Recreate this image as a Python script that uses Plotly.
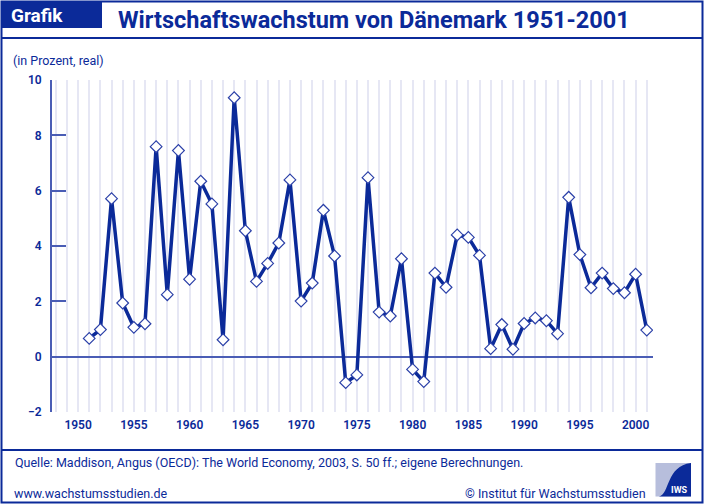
import plotly.graph_objects as go

years = list(range(1951, 2002))
growth = [0.66, 0.98, 5.71, 1.94, 1.06, 1.19, 7.59, 2.24, 7.45, 2.80,
          6.34, 5.52, 0.61, 9.36, 4.55, 2.72, 3.37, 4.11, 6.39, 2.01,
          2.66, 5.29, 3.64, -0.94, -0.66, 6.47, 1.61, 1.47, 3.54, -0.46,
          -0.90, 3.02, 2.51, 4.40, 4.31, 3.66, 0.29, 1.16, 0.27, 1.20,
          1.40, 1.30, 0.83, 5.76, 3.69, 2.49, 3.02, 2.46, 2.31, 2.98, 0.96]
x_ticks = [1950, 1955, 1960, 1965, 1970, 1975, 1980, 1985, 1990, 1995, 2000]
y_ticks = [-2, 0, 2, 4, 6, 8, 10]

title = "Wirtschaftswachstum von Dänemark 1951-2001"
source = "Quelle: Maddison, Angus (OECD): The World Economy, 2003, S. 50 ff.; eigene Berechnungen."
url = "www.wachstumsstudien.de"
copyright_txt = "© Institut für Wachstumsstudien"
unit = "(in Prozent, real)"

W, H = 704, 504
ML, MR, MT, MB = 52, 51, 80, 92
PW, PH = W - ML - MR, H - MT - MB

def px(x):
    return (x - ML) / PW

def py(y):
    return (H - MB - y) / PH

BLUE = "#0b2a99"
AXIS = "#4a5db5"
GRID = "#e6e7f4"
FONT = "Roboto"

fig = go.Figure()
fig.add_trace(go.Scatter(
    x=years, y=growth, mode="lines+markers",
    line=dict(color=BLUE, width=3.5),
    marker=dict(symbol="diamond", size=9, color="white",
                line=dict(color="#2b40a8", width=1.2)),
    hoverinfo="x+y", showlegend=False,
))

fig.update_layout(
    width=W, height=H, autosize=False,
    margin=dict(l=ML, r=MR, t=MT, b=MB),
    paper_bgcolor="white", plot_bgcolor="white",
    font=dict(family=FONT, color=BLUE),
    xaxis=dict(
        range=[1947.66, 2001.56], tickvals=x_ticks,
        showgrid=True, gridcolor=GRID, gridwidth=1.5,
        minor=dict(dtick=1, tick0=1948, showgrid=True, gridcolor=GRID, gridwidth=1.5),
        showline=False, zeroline=False, ticks="",
        tickfont=dict(family=FONT, size=12, color=BLUE, weight=600),
        ticklabelstandoff=4,
    ),
    yaxis=dict(
        range=[-2, 10], tickvals=y_ticks,
        showgrid=False, zeroline=True, zerolinecolor=AXIS, zerolinewidth=1.5,
        showline=True, linecolor=AXIS, linewidth=2,
        ticks="inside", ticklen=14, tickwidth=1.5, tickcolor=AXIS,
        tickfont=dict(family=FONT, size=12, color=BLUE, weight=600),
        ticklabelstandoff=6,
    ),
)

shapes = []
shapes.append(dict(type="rect", xref="paper", yref="paper",
                   x0=px(1.5), x1=px(702.5), y0=py(1.5), y1=py(502.5),
                   line=dict(color=BLUE, width=2), fillcolor="rgba(0,0,0,0)", layer="above"))
shapes.append(dict(type="rect", xref="paper", yref="paper",
                   x0=px(1.5), x1=px(102), y0=py(1.5), y1=py(28),
                   line=dict(width=0), fillcolor=BLUE, layer="above"))
shapes.append(dict(type="line", xref="paper", yref="paper",
                   x0=px(1.5), x1=px(702.5), y0=py(38), y1=py(38),
                   line=dict(color=BLUE, width=2)))
shapes.append(dict(type="line", xref="paper", yref="paper",
                   x0=px(1.5), x1=px(702.5), y0=py(450), y1=py(450),
                   line=dict(color=BLUE, width=2)))
shapes.append(dict(type="rect", xref="paper", yref="paper",
                   x0=px(655.5), x1=px(691), y0=py(463), y1=py(496.5),
                   line=dict(width=0), fillcolor="#b7bedc"))

def P(x, y):
    return f"{px(x):.5f},{py(y):.5f}"

swoosh = (f"M {P(659, 496.5)} C {P(670, 494)} {P(666, 466)} {P(691, 463)} "
          f"L {P(691, 496.5)} Z")
shapes.append(dict(type="path", xref="paper", yref="paper", path=swoosh,
                   line=dict(width=0), fillcolor=BLUE))

annotations = [
    dict(text="Grafik", x=px(9), y=py(15), xanchor="left", yanchor="middle",
         font=dict(family=FONT, size=19, color="white", weight="bold")),
    dict(text=title, x=px(116), y=py(20), xanchor="left", yanchor="middle",
         font=dict(family=FONT, size=23.5, color=BLUE, weight="bold")),
    dict(text=unit, x=px(11), y=py(61), xanchor="left", yanchor="middle",
         font=dict(family=FONT, size=12.5, color=BLUE)),
    dict(text=source, x=px(13), y=py(463), xanchor="left", yanchor="middle",
         font=dict(family=FONT, size=12.5, color=BLUE)),
    dict(text=url, x=px(12), y=py(493), xanchor="left", yanchor="middle",
         font=dict(family=FONT, size=12.5, color=BLUE)),
    dict(text=copyright_txt, x=px(648), y=py(493), xanchor="right", yanchor="middle",
         font=dict(family=FONT, size=12.5, color=BLUE)),
    dict(text="IWS", x=px(690), y=py(490), xanchor="right", yanchor="middle",
         font=dict(family=FONT, size=9, color="white", weight="bold")),
]
for a in annotations:
    a.update(xref="paper", yref="paper", showarrow=False)

fig.update_layout(shapes=shapes, annotations=annotations)
fig.write_html("out.html",
               config={"displayModeBar": False},
               post_script="document.body.style.margin='0';document.body.style.padding='0';document.body.style.overflow='hidden';")
